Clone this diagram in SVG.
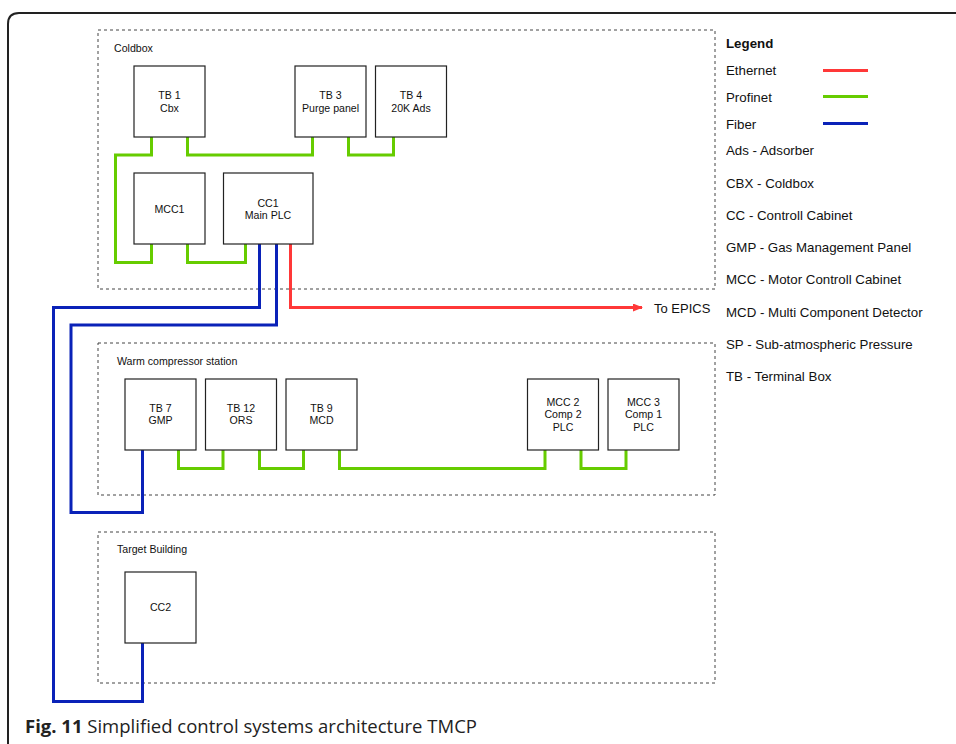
<svg xmlns="http://www.w3.org/2000/svg" width="956" height="744" viewBox="0 0 956 744">
  <defs>
    <style>
      .frame { fill: none; stroke: #222; stroke-width: 2; }
      .zone { fill: none; stroke: #444; stroke-width: 1; stroke-dasharray: 3 3; }
      .box { fill: #fff; stroke: #222; stroke-width: 1.2; }
      .lbl { font-family: "Liberation Sans", Arial, sans-serif; font-size: 10.6px; fill: #111; text-anchor: middle; }
      .zlbl { font-family: "Liberation Sans", Arial, sans-serif; font-size: 10.6px; fill: #111; }
      .leg { font-family: "Liberation Sans", Arial, sans-serif; font-size: 13.3px; fill: #111; }
      .legb { font-family: "Liberation Sans", Arial, sans-serif; font-size: 13.3px; font-weight: bold; fill: #111; }
      .pn { fill: none; stroke: #66cc00; stroke-width: 3; }
      .fb { fill: none; stroke: #0a22b8; stroke-width: 3; }
      .eth { fill: none; stroke: #ff3838; stroke-width: 3; }
      .cap { font-family: "Open Sans", "Noto Sans", sans-serif; font-size: 18.5px; fill: #222; }
    </style>
    <marker id="arrowRed" viewBox="0 0 10 8" refX="9" refY="4" markerWidth="10" markerHeight="8" markerUnits="userSpaceOnUse" orient="auto">
      <path d="M0,0 L10,4 L0,8 Z" fill="#ff3838"/>
    </marker>
  </defs>

  <rect width="956" height="744" fill="#fff"/>

  <!-- outer figure frame -->
  <path class="frame" d="M8,748 V24 Q8,13 19,13 H958"/>

  <!-- zones -->
  <g id="zone-coldbox">
    <rect class="zone" x="98" y="30" width="617" height="259"/>
    <text class="zlbl" x="114" y="52">Coldbox</text>
  </g>
  <g id="zone-warm">
    <rect class="zone" x="98" y="343" width="617" height="152"/>
    <text class="zlbl" x="117" y="364.5">Warm compressor station</text>
  </g>
  <g id="zone-target">
    <rect class="zone" x="98" y="532" width="617" height="151"/>
    <text class="zlbl" x="117" y="553">Target Building</text>
  </g>

  <!-- connectors -->
  <g id="connectors">
    <!-- Profinet, coldbox -->
    <path class="pn" d="M151.5,137 V155 H115.5 V262.5 H151.5 V244"/>
    <path class="pn" d="M187.5,137 V155 H312.5 V137"/>
    <path class="pn" d="M348.5,137 V155 H393.5 V137"/>
    <path class="pn" d="M187.5,244 V262.5 H245.5 V244"/>
    <!-- Profinet, warm compressor station -->
    <path class="pn" d="M178.5,450 V468.5 H223 V450"/>
    <path class="pn" d="M259.5,450 V468.5 H303.5 V450"/>
    <path class="pn" d="M339.5,450 V468.5 H545 V450"/>
    <path class="pn" d="M581,450 V468.5 H626 V450"/>
    <!-- Fiber -->
    <path class="fb" d="M259.5,244 V307.5 H53.5 V701.5 H142.5 V643"/>
    <path class="fb" d="M276.5,244 V325 H71 V512.5 H142.5 V450"/>
    <!-- Ethernet to EPICS -->
    <path class="eth" d="M290.5,244 V307.5 H642" marker-end="url(#arrowRed)"/>
    <text class="leg" x="654" y="312.5" style="font-size:13px">To EPICS</text>
  </g>

  <!-- coldbox nodes -->
  <g id="tb1">
    <rect class="box" x="134" y="66" width="71" height="71"/>
    <text class="lbl" x="169.5" y="99">TB 1</text>
    <text class="lbl" x="169.5" y="111.5">Cbx</text>
  </g>
  <g id="tb3">
    <rect class="box" x="295" y="66" width="71" height="71"/>
    <text class="lbl" x="330.5" y="99">TB 3</text>
    <text class="lbl" x="330.5" y="111.5">Purge panel</text>
  </g>
  <g id="tb4">
    <rect class="box" x="375.5" y="66" width="71" height="71"/>
    <text class="lbl" x="411" y="99">TB 4</text>
    <text class="lbl" x="411" y="111.5">20K Ads</text>
  </g>
  <g id="mcc1">
    <rect class="box" x="134" y="173" width="71" height="71"/>
    <text class="lbl" x="169.5" y="212.5">MCC1</text>
  </g>
  <g id="cc1">
    <rect class="box" x="223.5" y="173" width="89.5" height="71"/>
    <text class="lbl" x="268" y="206.5">CC1</text>
    <text class="lbl" x="268" y="219">Main PLC</text>
  </g>

  <!-- warm compressor station nodes -->
  <g id="tb7">
    <rect class="box" x="125" y="379" width="71" height="71"/>
    <text class="lbl" x="160.5" y="411.5">TB 7</text>
    <text class="lbl" x="160.5" y="424">GMP</text>
  </g>
  <g id="tb12">
    <rect class="box" x="205.5" y="379" width="71" height="71"/>
    <text class="lbl" x="241" y="411.5">TB 12</text>
    <text class="lbl" x="241" y="424">ORS</text>
  </g>
  <g id="tb9">
    <rect class="box" x="286" y="379" width="71" height="71"/>
    <text class="lbl" x="321.5" y="411.5">TB 9</text>
    <text class="lbl" x="321.5" y="424">MCD</text>
  </g>
  <g id="mcc2">
    <rect class="box" x="527.5" y="379" width="71" height="71"/>
    <text class="lbl" x="563" y="405.5">MCC 2</text>
    <text class="lbl" x="563" y="418">Comp 2</text>
    <text class="lbl" x="563" y="430.5">PLC</text>
  </g>
  <g id="mcc3">
    <rect class="box" x="608" y="379" width="71" height="71"/>
    <text class="lbl" x="643.5" y="405.5">MCC 3</text>
    <text class="lbl" x="643.5" y="418">Comp 1</text>
    <text class="lbl" x="643.5" y="430.5">PLC</text>
  </g>

  <!-- target building node -->
  <g id="cc2">
    <rect class="box" x="125" y="572" width="71" height="71"/>
    <text class="lbl" x="160.5" y="611">CC2</text>
  </g>

  <!-- legend -->
  <g id="legend">
    <text class="legb" x="726" y="48">Legend</text>
    <text class="leg" x="726" y="74.5">Ethernet</text>
    <line class="eth" x1="823" y1="70.5" x2="868" y2="70.5"/>
    <text class="leg" x="726" y="101.5">Profinet</text>
    <line class="pn" x1="823" y1="96.5" x2="868" y2="96.5"/>
    <text class="leg" x="726" y="128.5">Fiber</text>
    <line class="fb" x1="823" y1="123.5" x2="868" y2="123.5"/>
    <text class="leg" x="726" y="155">Ads - Adsorber</text>
    <text class="leg" x="726" y="187.5">CBX - Coldbox</text>
    <text class="leg" x="726" y="219.5">CC - Controll Cabinet</text>
    <text class="leg" x="726" y="252">GMP - Gas Management Panel</text>
    <text class="leg" x="726" y="284">MCC - Motor Controll Cabinet</text>
    <text class="leg" x="726" y="316.5">MCD - Multi Component Detector</text>
    <text class="leg" x="726" y="348.5">SP - Sub-atmospheric Pressure</text>
    <text class="leg" x="726" y="381">TB - Terminal Box</text>
  </g>

  <!-- caption -->
  <text class="cap" x="25" y="733"><tspan font-weight="bold">Fig. 11</tspan> Simplified control systems architecture TMCP</text>
</svg>
